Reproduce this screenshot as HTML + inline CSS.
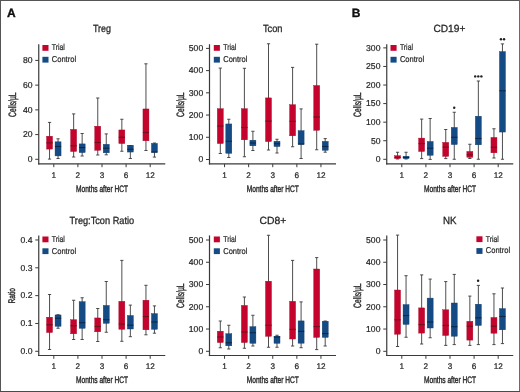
<!DOCTYPE html>
<html><head><meta charset="utf-8"><style>
html,body{margin:0;padding:0;background:#fff;}
body{width:520px;height:392px;overflow:hidden;position:relative;}
svg{position:absolute;left:0;top:0;font-family:"Liberation Sans", sans-serif;will-change:transform;}
svg text{stroke:#2a2a2a;stroke-width:0.22px;text-rendering:geometricPrecision;}
</style></head><body>
<svg width="520" height="392" viewBox="0 0 520 392">
<rect x="0" y="0" width="520" height="392" fill="#fff"/>
<rect x="0" y="0" width="520" height="1" fill="#555"/>
<rect x="0" y="0" width="1" height="392" fill="#555"/>
<rect x="519" y="0" width="1" height="392" fill="#6a6a6a"/>
<rect x="0" y="391" width="520" height="1" fill="#4a4a4a"/>
<text x="7" y="17.2" font-size="12" font-weight="bold" fill="#111" style="stroke:#111;stroke-width:0.35">A</text>
<text x="351.8" y="17.2" font-size="12" font-weight="bold" fill="#111" style="stroke:#111;stroke-width:0.35">B</text>
<text x="102" y="32.0" font-size="10.4" text-anchor="middle" fill="#262626" textLength="18.1" lengthAdjust="spacingAndGlyphs" style="stroke-width:0.3">Treg</text>
<text transform="translate(16.4,104.7) rotate(-90)" font-size="10.6" style="stroke-width:0.4" text-anchor="middle" fill="#262626" textLength="24.4" lengthAdjust="spacingAndGlyphs">Cells/µL</text>
<line x1="38.75" y1="44.2" x2="38.75" y2="164.5" stroke="#3a3a3a" stroke-width="1.2"/>
<line x1="38.15" y1="163.9" x2="165.25" y2="163.9" stroke="#3a3a3a" stroke-width="1.2"/>
<line x1="35.25" y1="159.3" x2="38.75" y2="159.3" stroke="#3a3a3a" stroke-width="1"/>
<text x="32.45" y="162.10000000000002" font-size="8.6" text-anchor="end" fill="#262626">0</text>
<line x1="35.25" y1="134.58" x2="38.75" y2="134.58" stroke="#3a3a3a" stroke-width="1"/>
<text x="32.45" y="137.38000000000002" font-size="8.6" text-anchor="end" fill="#262626">20</text>
<line x1="35.25" y1="109.86000000000001" x2="38.75" y2="109.86000000000001" stroke="#3a3a3a" stroke-width="1"/>
<text x="32.45" y="112.66000000000001" font-size="8.6" text-anchor="end" fill="#262626">40</text>
<line x1="35.25" y1="85.14000000000001" x2="38.75" y2="85.14000000000001" stroke="#3a3a3a" stroke-width="1"/>
<text x="32.45" y="87.94000000000001" font-size="8.6" text-anchor="end" fill="#262626">60</text>
<line x1="35.25" y1="60.420000000000016" x2="38.75" y2="60.420000000000016" stroke="#3a3a3a" stroke-width="1"/>
<text x="32.45" y="63.22000000000001" font-size="8.6" text-anchor="end" fill="#262626">80</text>
<line x1="53.8" y1="163.9" x2="53.8" y2="167.20000000000002" stroke="#3a3a3a" stroke-width="1"/>
<text x="53.8" y="177.6" font-size="8.2" text-anchor="middle" fill="#262626">1</text>
<line x1="77.9" y1="163.9" x2="77.9" y2="167.20000000000002" stroke="#3a3a3a" stroke-width="1"/>
<text x="77.9" y="177.6" font-size="8.2" text-anchor="middle" fill="#262626">2</text>
<line x1="102.0" y1="163.9" x2="102.0" y2="167.20000000000002" stroke="#3a3a3a" stroke-width="1"/>
<text x="102.0" y="177.6" font-size="8.2" text-anchor="middle" fill="#262626">3</text>
<line x1="126.10000000000001" y1="163.9" x2="126.10000000000001" y2="167.20000000000002" stroke="#3a3a3a" stroke-width="1"/>
<text x="126.10000000000001" y="177.6" font-size="8.2" text-anchor="middle" fill="#262626">6</text>
<line x1="150.2" y1="163.9" x2="150.2" y2="167.20000000000002" stroke="#3a3a3a" stroke-width="1"/>
<text x="150.2" y="177.6" font-size="8.2" text-anchor="middle" fill="#262626">12</text>
<text x="102.0" y="191.6" font-size="9.4" text-anchor="middle" fill="#262626" textLength="52" lengthAdjust="spacingAndGlyphs" style="stroke-width:0.4">Months after HCT</text>
<rect x="42.400000000000006" y="45" width="6.1" height="5.8" fill="#c4042c"/>
<rect x="42.400000000000006" y="56.8" width="6.1" height="5.8" fill="#154b84"/>
<text x="51.800000000000004" y="50.3" font-size="8.5" fill="#262626" textLength="13.1" lengthAdjust="spacingAndGlyphs">Trial</text>
<text x="51.800000000000004" y="62.0" font-size="8.5" fill="#262626" textLength="24.3" lengthAdjust="spacingAndGlyphs">Control</text>
<line x1="49.55" y1="122.4" x2="49.55" y2="159.1" stroke="#3a3a3a" stroke-width="0.9"/>
<line x1="47.949999999999996" y1="122.4" x2="51.15" y2="122.4" stroke="#3a3a3a" stroke-width="0.9"/>
<line x1="47.949999999999996" y1="159.1" x2="51.15" y2="159.1" stroke="#3a3a3a" stroke-width="0.9"/>
<rect x="46.55" y="136.2" width="6.0" height="12.900000000000011" fill="#c4042c" stroke="#a80826" stroke-width="0.4"/>
<line x1="46.449999999999996" y1="142.8" x2="52.65" y2="142.8" stroke="#72101c" stroke-width="1.1"/>
<line x1="58.05" y1="138.8" x2="58.05" y2="158.5" stroke="#3a3a3a" stroke-width="0.9"/>
<line x1="56.449999999999996" y1="138.8" x2="59.65" y2="138.8" stroke="#3a3a3a" stroke-width="0.9"/>
<line x1="56.449999999999996" y1="158.5" x2="59.65" y2="158.5" stroke="#3a3a3a" stroke-width="0.9"/>
<rect x="55.05" y="141.79999999999998" width="6.0" height="14.1" fill="#154b84" stroke="#0e3a68" stroke-width="0.4"/>
<line x1="54.949999999999996" y1="146.5" x2="61.15" y2="146.5" stroke="#0b2846" stroke-width="1.1"/>
<line x1="73.65" y1="113.9" x2="73.65" y2="157" stroke="#3a3a3a" stroke-width="0.9"/>
<line x1="72.05000000000001" y1="113.9" x2="75.25" y2="113.9" stroke="#3a3a3a" stroke-width="0.9"/>
<line x1="72.05000000000001" y1="157" x2="75.25" y2="157" stroke="#3a3a3a" stroke-width="0.9"/>
<rect x="70.65" y="129.39999999999998" width="6.0" height="22.1" fill="#c4042c" stroke="#a80826" stroke-width="0.4"/>
<line x1="70.55000000000001" y1="145.8" x2="76.75" y2="145.8" stroke="#72101c" stroke-width="1.1"/>
<line x1="82.15" y1="133.5" x2="82.15" y2="156" stroke="#3a3a3a" stroke-width="0.9"/>
<line x1="80.55000000000001" y1="133.5" x2="83.75" y2="133.5" stroke="#3a3a3a" stroke-width="0.9"/>
<line x1="80.55000000000001" y1="156" x2="83.75" y2="156" stroke="#3a3a3a" stroke-width="0.9"/>
<rect x="79.15" y="143.89999999999998" width="6.0" height="8.700000000000022" fill="#154b84" stroke="#0e3a68" stroke-width="0.4"/>
<line x1="79.05000000000001" y1="147.6" x2="85.25" y2="147.6" stroke="#0b2846" stroke-width="1.1"/>
<line x1="97.75" y1="98" x2="97.75" y2="155" stroke="#3a3a3a" stroke-width="0.9"/>
<line x1="96.15" y1="98" x2="99.35" y2="98" stroke="#3a3a3a" stroke-width="0.9"/>
<line x1="96.15" y1="155" x2="99.35" y2="155" stroke="#3a3a3a" stroke-width="0.9"/>
<rect x="94.75" y="126.2" width="6.0" height="24.1" fill="#c4042c" stroke="#a80826" stroke-width="0.4"/>
<line x1="94.65" y1="142.5" x2="100.85" y2="142.5" stroke="#72101c" stroke-width="1.1"/>
<line x1="106.25" y1="133.9" x2="106.25" y2="154.8" stroke="#3a3a3a" stroke-width="0.9"/>
<line x1="104.65" y1="133.9" x2="107.85" y2="133.9" stroke="#3a3a3a" stroke-width="0.9"/>
<line x1="104.65" y1="154.8" x2="107.85" y2="154.8" stroke="#3a3a3a" stroke-width="0.9"/>
<rect x="103.25" y="144.29999999999998" width="6.0" height="8.500000000000005" fill="#154b84" stroke="#0e3a68" stroke-width="0.4"/>
<line x1="103.15" y1="148.2" x2="109.35" y2="148.2" stroke="#0b2846" stroke-width="1.1"/>
<line x1="121.85000000000001" y1="119.25" x2="121.85000000000001" y2="151.25" stroke="#3a3a3a" stroke-width="0.9"/>
<line x1="120.25000000000001" y1="119.25" x2="123.45" y2="119.25" stroke="#3a3a3a" stroke-width="0.9"/>
<line x1="120.25000000000001" y1="151.25" x2="123.45" y2="151.25" stroke="#3a3a3a" stroke-width="0.9"/>
<rect x="118.85000000000001" y="129.95" width="6.0" height="13.6" fill="#c4042c" stroke="#a80826" stroke-width="0.4"/>
<line x1="118.75000000000001" y1="137.25" x2="124.95" y2="137.25" stroke="#72101c" stroke-width="1.1"/>
<line x1="130.35000000000002" y1="145.5" x2="130.35000000000002" y2="158.5" stroke="#3a3a3a" stroke-width="0.9"/>
<line x1="128.75000000000003" y1="145.5" x2="131.95000000000002" y2="145.5" stroke="#3a3a3a" stroke-width="0.9"/>
<line x1="128.75000000000003" y1="158.5" x2="131.95000000000002" y2="158.5" stroke="#3a3a3a" stroke-width="0.9"/>
<rect x="127.35000000000002" y="145.2" width="6.0" height="6.85" fill="#154b84" stroke="#0e3a68" stroke-width="0.4"/>
<line x1="127.25000000000003" y1="149.25" x2="133.45000000000002" y2="149.25" stroke="#0b2846" stroke-width="1.1"/>
<line x1="145.95" y1="63.8" x2="145.95" y2="150.5" stroke="#3a3a3a" stroke-width="0.9"/>
<line x1="144.35" y1="63.8" x2="147.54999999999998" y2="63.8" stroke="#3a3a3a" stroke-width="0.9"/>
<line x1="144.35" y1="150.5" x2="147.54999999999998" y2="150.5" stroke="#3a3a3a" stroke-width="0.9"/>
<rect x="142.95" y="108.95" width="6.0" height="31.85" fill="#c4042c" stroke="#a80826" stroke-width="0.4"/>
<line x1="142.85" y1="132.5" x2="149.04999999999998" y2="132.5" stroke="#72101c" stroke-width="1.1"/>
<line x1="154.45" y1="143" x2="154.45" y2="157.1" stroke="#3a3a3a" stroke-width="0.9"/>
<line x1="152.85" y1="143" x2="156.04999999999998" y2="143" stroke="#3a3a3a" stroke-width="0.9"/>
<line x1="152.85" y1="157.1" x2="156.04999999999998" y2="157.1" stroke="#3a3a3a" stroke-width="0.9"/>
<rect x="151.45" y="143.39999999999998" width="6.0" height="9.000000000000005" fill="#154b84" stroke="#0e3a68" stroke-width="0.4"/>
<line x1="151.35" y1="152" x2="157.54999999999998" y2="152" stroke="#0b2846" stroke-width="1.1"/>
<text x="272.75" y="32.0" font-size="10.4" text-anchor="middle" fill="#262626" textLength="19.5" lengthAdjust="spacingAndGlyphs" style="stroke-width:0.3">Tcon</text>
<text transform="translate(184.39999999999998,104.7) rotate(-90)" font-size="10.6" style="stroke-width:0.4" text-anchor="middle" fill="#262626" textLength="24.4" lengthAdjust="spacingAndGlyphs">Cells/µL</text>
<line x1="209.5" y1="44.2" x2="209.5" y2="164.5" stroke="#3a3a3a" stroke-width="1.2"/>
<line x1="208.9" y1="163.9" x2="336.0" y2="163.9" stroke="#3a3a3a" stroke-width="1.2"/>
<line x1="206.0" y1="159.5" x2="209.5" y2="159.5" stroke="#3a3a3a" stroke-width="1"/>
<text x="203.2" y="162.3" font-size="8.6" text-anchor="end" fill="#262626">0</text>
<line x1="206.0" y1="137.28" x2="209.5" y2="137.28" stroke="#3a3a3a" stroke-width="1"/>
<text x="203.2" y="140.08" font-size="8.6" text-anchor="end" fill="#262626">100</text>
<line x1="206.0" y1="115.06" x2="209.5" y2="115.06" stroke="#3a3a3a" stroke-width="1"/>
<text x="203.2" y="117.86" font-size="8.6" text-anchor="end" fill="#262626">200</text>
<line x1="206.0" y1="92.84" x2="209.5" y2="92.84" stroke="#3a3a3a" stroke-width="1"/>
<text x="203.2" y="95.64" font-size="8.6" text-anchor="end" fill="#262626">300</text>
<line x1="206.0" y1="70.62" x2="209.5" y2="70.62" stroke="#3a3a3a" stroke-width="1"/>
<text x="203.2" y="73.42" font-size="8.6" text-anchor="end" fill="#262626">400</text>
<line x1="206.0" y1="48.400000000000006" x2="209.5" y2="48.400000000000006" stroke="#3a3a3a" stroke-width="1"/>
<text x="203.2" y="51.2" font-size="8.6" text-anchor="end" fill="#262626">500</text>
<line x1="224.55" y1="163.9" x2="224.55" y2="167.20000000000002" stroke="#3a3a3a" stroke-width="1"/>
<text x="224.55" y="177.6" font-size="8.2" text-anchor="middle" fill="#262626">1</text>
<line x1="248.65" y1="163.9" x2="248.65" y2="167.20000000000002" stroke="#3a3a3a" stroke-width="1"/>
<text x="248.65" y="177.6" font-size="8.2" text-anchor="middle" fill="#262626">2</text>
<line x1="272.75" y1="163.9" x2="272.75" y2="167.20000000000002" stroke="#3a3a3a" stroke-width="1"/>
<text x="272.75" y="177.6" font-size="8.2" text-anchor="middle" fill="#262626">3</text>
<line x1="296.85" y1="163.9" x2="296.85" y2="167.20000000000002" stroke="#3a3a3a" stroke-width="1"/>
<text x="296.85" y="177.6" font-size="8.2" text-anchor="middle" fill="#262626">6</text>
<line x1="320.95000000000005" y1="163.9" x2="320.95000000000005" y2="167.20000000000002" stroke="#3a3a3a" stroke-width="1"/>
<text x="320.95000000000005" y="177.6" font-size="8.2" text-anchor="middle" fill="#262626">12</text>
<text x="272.75" y="191.6" font-size="9.4" text-anchor="middle" fill="#262626" textLength="52" lengthAdjust="spacingAndGlyphs" style="stroke-width:0.4">Months after HCT</text>
<rect x="213.79999999999998" y="45" width="6.1" height="5.8" fill="#c4042c"/>
<rect x="213.79999999999998" y="56.8" width="6.1" height="5.8" fill="#154b84"/>
<text x="223.2" y="50.3" font-size="8.5" fill="#262626" textLength="13.1" lengthAdjust="spacingAndGlyphs">Trial</text>
<text x="223.2" y="62.0" font-size="8.5" fill="#262626" textLength="24.3" lengthAdjust="spacingAndGlyphs">Control</text>
<line x1="220.3" y1="68.1" x2="220.3" y2="153.5" stroke="#3a3a3a" stroke-width="0.9"/>
<line x1="218.70000000000002" y1="68.1" x2="221.9" y2="68.1" stroke="#3a3a3a" stroke-width="0.9"/>
<line x1="218.70000000000002" y1="153.5" x2="221.9" y2="153.5" stroke="#3a3a3a" stroke-width="0.9"/>
<rect x="217.3" y="108.7" width="6.0" height="34.85" fill="#c4042c" stroke="#a80826" stroke-width="0.4"/>
<line x1="217.20000000000002" y1="126" x2="223.4" y2="126" stroke="#72101c" stroke-width="1.1"/>
<line x1="228.8" y1="119.25" x2="228.8" y2="157.5" stroke="#3a3a3a" stroke-width="0.9"/>
<line x1="227.20000000000002" y1="119.25" x2="230.4" y2="119.25" stroke="#3a3a3a" stroke-width="0.9"/>
<line x1="227.20000000000002" y1="157.5" x2="230.4" y2="157.5" stroke="#3a3a3a" stroke-width="0.9"/>
<rect x="225.8" y="123.95" width="6.0" height="29.35" fill="#154b84" stroke="#0e3a68" stroke-width="0.4"/>
<line x1="225.70000000000002" y1="141.25" x2="231.9" y2="141.25" stroke="#0b2846" stroke-width="1.1"/>
<line x1="244.4" y1="68.3" x2="244.4" y2="156.75" stroke="#3a3a3a" stroke-width="0.9"/>
<line x1="242.8" y1="68.3" x2="246.0" y2="68.3" stroke="#3a3a3a" stroke-width="0.9"/>
<line x1="242.8" y1="156.75" x2="246.0" y2="156.75" stroke="#3a3a3a" stroke-width="0.9"/>
<rect x="241.4" y="108.7" width="6.0" height="31.1" fill="#c4042c" stroke="#a80826" stroke-width="0.4"/>
<line x1="241.3" y1="127.5" x2="247.5" y2="127.5" stroke="#72101c" stroke-width="1.1"/>
<line x1="252.9" y1="131.25" x2="252.9" y2="150.5" stroke="#3a3a3a" stroke-width="0.9"/>
<line x1="251.3" y1="131.25" x2="254.5" y2="131.25" stroke="#3a3a3a" stroke-width="0.9"/>
<line x1="251.3" y1="150.5" x2="254.5" y2="150.5" stroke="#3a3a3a" stroke-width="0.9"/>
<rect x="249.9" y="140.2" width="6.0" height="5.6" fill="#154b84" stroke="#0e3a68" stroke-width="0.4"/>
<line x1="249.8" y1="143" x2="256.0" y2="143" stroke="#0b2846" stroke-width="1.1"/>
<line x1="268.5" y1="43.75" x2="268.5" y2="150" stroke="#3a3a3a" stroke-width="0.9"/>
<line x1="266.9" y1="43.75" x2="270.1" y2="43.75" stroke="#3a3a3a" stroke-width="0.9"/>
<line x1="266.9" y1="150" x2="270.1" y2="150" stroke="#3a3a3a" stroke-width="0.9"/>
<rect x="265.5" y="97.9" width="6.0" height="43.65" fill="#c4042c" stroke="#a80826" stroke-width="0.4"/>
<line x1="265.4" y1="121.1" x2="271.6" y2="121.1" stroke="#72101c" stroke-width="1.1"/>
<line x1="277.0" y1="139.25" x2="277.0" y2="153" stroke="#3a3a3a" stroke-width="0.9"/>
<line x1="275.4" y1="139.25" x2="278.6" y2="139.25" stroke="#3a3a3a" stroke-width="0.9"/>
<line x1="275.4" y1="153" x2="278.6" y2="153" stroke="#3a3a3a" stroke-width="0.9"/>
<rect x="274.0" y="141.2" width="6.0" height="5.35" fill="#154b84" stroke="#0e3a68" stroke-width="0.4"/>
<line x1="273.9" y1="143.75" x2="280.1" y2="143.75" stroke="#0b2846" stroke-width="1.1"/>
<line x1="292.6" y1="67.4" x2="292.6" y2="146.75" stroke="#3a3a3a" stroke-width="0.9"/>
<line x1="291.0" y1="67.4" x2="294.20000000000005" y2="67.4" stroke="#3a3a3a" stroke-width="0.9"/>
<line x1="291.0" y1="146.75" x2="294.20000000000005" y2="146.75" stroke="#3a3a3a" stroke-width="0.9"/>
<rect x="289.6" y="104.7" width="6.0" height="31.1" fill="#c4042c" stroke="#a80826" stroke-width="0.4"/>
<line x1="289.5" y1="121.3" x2="295.70000000000005" y2="121.3" stroke="#72101c" stroke-width="1.1"/>
<line x1="301.1" y1="108.9" x2="301.1" y2="158.5" stroke="#3a3a3a" stroke-width="0.9"/>
<line x1="299.5" y1="108.9" x2="302.70000000000005" y2="108.9" stroke="#3a3a3a" stroke-width="0.9"/>
<line x1="299.5" y1="158.5" x2="302.70000000000005" y2="158.5" stroke="#3a3a3a" stroke-width="0.9"/>
<rect x="298.1" y="130.7" width="6.0" height="13.699999999999994" fill="#154b84" stroke="#0e3a68" stroke-width="0.4"/>
<line x1="298.0" y1="144" x2="304.20000000000005" y2="144" stroke="#0b2846" stroke-width="1.1"/>
<line x1="316.70000000000005" y1="44.2" x2="316.70000000000005" y2="149.75" stroke="#3a3a3a" stroke-width="0.9"/>
<line x1="315.1" y1="44.2" x2="318.30000000000007" y2="44.2" stroke="#3a3a3a" stroke-width="0.9"/>
<line x1="315.1" y1="149.75" x2="318.30000000000007" y2="149.75" stroke="#3a3a3a" stroke-width="0.9"/>
<rect x="313.70000000000005" y="85.5" width="6.0" height="44.800000000000004" fill="#c4042c" stroke="#a80826" stroke-width="0.4"/>
<line x1="313.6" y1="117" x2="319.80000000000007" y2="117" stroke="#72101c" stroke-width="1.1"/>
<line x1="325.20000000000005" y1="138.6" x2="325.20000000000005" y2="152.2" stroke="#3a3a3a" stroke-width="0.9"/>
<line x1="323.6" y1="138.6" x2="326.80000000000007" y2="138.6" stroke="#3a3a3a" stroke-width="0.9"/>
<line x1="323.6" y1="152.2" x2="326.80000000000007" y2="152.2" stroke="#3a3a3a" stroke-width="0.9"/>
<rect x="322.20000000000005" y="141.39999999999998" width="6.0" height="8.900000000000011" fill="#154b84" stroke="#0e3a68" stroke-width="0.4"/>
<line x1="322.1" y1="146.5" x2="328.30000000000007" y2="146.5" stroke="#0b2846" stroke-width="1.1"/>
<text x="449.4" y="32.0" font-size="10.4" text-anchor="middle" fill="#262626" textLength="32" lengthAdjust="spacingAndGlyphs" style="stroke-width:0.3">CD19+</text>
<text transform="translate(361.2,104.7) rotate(-90)" font-size="10.6" style="stroke-width:0.4" text-anchor="middle" fill="#262626" textLength="24.4" lengthAdjust="spacingAndGlyphs">Cells/µL</text>
<line x1="386.75" y1="44.2" x2="386.75" y2="164.5" stroke="#3a3a3a" stroke-width="1.2"/>
<line x1="386.15" y1="163.9" x2="513.25" y2="163.9" stroke="#3a3a3a" stroke-width="1.2"/>
<line x1="383.25" y1="159.3" x2="386.75" y2="159.3" stroke="#3a3a3a" stroke-width="1"/>
<text x="380.45" y="162.10000000000002" font-size="8.6" text-anchor="end" fill="#262626">0</text>
<line x1="383.25" y1="140.73000000000002" x2="386.75" y2="140.73000000000002" stroke="#3a3a3a" stroke-width="1"/>
<text x="380.45" y="143.53000000000003" font-size="8.6" text-anchor="end" fill="#262626">50</text>
<line x1="383.25" y1="122.16000000000001" x2="386.75" y2="122.16000000000001" stroke="#3a3a3a" stroke-width="1"/>
<text x="380.45" y="124.96000000000001" font-size="8.6" text-anchor="end" fill="#262626">100</text>
<line x1="383.25" y1="103.59" x2="386.75" y2="103.59" stroke="#3a3a3a" stroke-width="1"/>
<text x="380.45" y="106.39" font-size="8.6" text-anchor="end" fill="#262626">150</text>
<line x1="383.25" y1="85.02000000000001" x2="386.75" y2="85.02000000000001" stroke="#3a3a3a" stroke-width="1"/>
<text x="380.45" y="87.82000000000001" font-size="8.6" text-anchor="end" fill="#262626">200</text>
<line x1="383.25" y1="66.45" x2="386.75" y2="66.45" stroke="#3a3a3a" stroke-width="1"/>
<text x="380.45" y="69.25" font-size="8.6" text-anchor="end" fill="#262626">250</text>
<line x1="383.25" y1="47.88000000000001" x2="386.75" y2="47.88000000000001" stroke="#3a3a3a" stroke-width="1"/>
<text x="380.45" y="50.68000000000001" font-size="8.6" text-anchor="end" fill="#262626">300</text>
<line x1="401.8" y1="163.9" x2="401.8" y2="167.20000000000002" stroke="#3a3a3a" stroke-width="1"/>
<text x="401.8" y="177.6" font-size="8.2" text-anchor="middle" fill="#262626">1</text>
<line x1="425.90000000000003" y1="163.9" x2="425.90000000000003" y2="167.20000000000002" stroke="#3a3a3a" stroke-width="1"/>
<text x="425.90000000000003" y="177.6" font-size="8.2" text-anchor="middle" fill="#262626">2</text>
<line x1="450.0" y1="163.9" x2="450.0" y2="167.20000000000002" stroke="#3a3a3a" stroke-width="1"/>
<text x="450.0" y="177.6" font-size="8.2" text-anchor="middle" fill="#262626">3</text>
<line x1="474.1" y1="163.9" x2="474.1" y2="167.20000000000002" stroke="#3a3a3a" stroke-width="1"/>
<text x="474.1" y="177.6" font-size="8.2" text-anchor="middle" fill="#262626">6</text>
<line x1="498.20000000000005" y1="163.9" x2="498.20000000000005" y2="167.20000000000002" stroke="#3a3a3a" stroke-width="1"/>
<text x="498.20000000000005" y="177.6" font-size="8.2" text-anchor="middle" fill="#262626">12</text>
<text x="450.0" y="191.6" font-size="9.4" text-anchor="middle" fill="#262626" textLength="52" lengthAdjust="spacingAndGlyphs" style="stroke-width:0.4">Months after HCT</text>
<rect x="390.5" y="45" width="6.1" height="5.8" fill="#c4042c"/>
<rect x="390.5" y="56.8" width="6.1" height="5.8" fill="#154b84"/>
<text x="399.90000000000003" y="50.3" font-size="8.5" fill="#262626" textLength="13.1" lengthAdjust="spacingAndGlyphs">Trial</text>
<text x="399.90000000000003" y="62.0" font-size="8.5" fill="#262626" textLength="24.3" lengthAdjust="spacingAndGlyphs">Control</text>
<line x1="397.55" y1="152.25" x2="397.55" y2="159" stroke="#3a3a3a" stroke-width="0.9"/>
<line x1="395.95" y1="152.25" x2="399.15000000000003" y2="152.25" stroke="#3a3a3a" stroke-width="0.9"/>
<line x1="395.95" y1="159" x2="399.15000000000003" y2="159" stroke="#3a3a3a" stroke-width="0.9"/>
<rect x="394.55" y="155.7" width="6.0" height="2.85" fill="#c4042c" stroke="#a80826" stroke-width="0.4"/>
<line x1="394.45" y1="157.5" x2="400.65000000000003" y2="157.5" stroke="#72101c" stroke-width="1.1"/>
<line x1="406.05" y1="152.25" x2="406.05" y2="159" stroke="#3a3a3a" stroke-width="0.9"/>
<line x1="404.45" y1="152.25" x2="407.65000000000003" y2="152.25" stroke="#3a3a3a" stroke-width="0.9"/>
<line x1="404.45" y1="159" x2="407.65000000000003" y2="159" stroke="#3a3a3a" stroke-width="0.9"/>
<rect x="403.05" y="156.2" width="6.0" height="2.35" fill="#154b84" stroke="#0e3a68" stroke-width="0.4"/>
<line x1="402.95" y1="157.5" x2="409.15000000000003" y2="157.5" stroke="#0b2846" stroke-width="1.1"/>
<line x1="421.65000000000003" y1="119.1" x2="421.65000000000003" y2="158.6" stroke="#3a3a3a" stroke-width="0.9"/>
<line x1="420.05" y1="119.1" x2="423.25000000000006" y2="119.1" stroke="#3a3a3a" stroke-width="0.9"/>
<line x1="420.05" y1="158.6" x2="423.25000000000006" y2="158.6" stroke="#3a3a3a" stroke-width="0.9"/>
<rect x="418.65000000000003" y="138.1" width="6.0" height="13.399999999999983" fill="#c4042c" stroke="#a80826" stroke-width="0.4"/>
<line x1="418.55" y1="143.6" x2="424.75000000000006" y2="143.6" stroke="#72101c" stroke-width="1.1"/>
<line x1="430.15000000000003" y1="118.5" x2="430.15000000000003" y2="159.4" stroke="#3a3a3a" stroke-width="0.9"/>
<line x1="428.55" y1="118.5" x2="431.75000000000006" y2="118.5" stroke="#3a3a3a" stroke-width="0.9"/>
<line x1="428.55" y1="159.4" x2="431.75000000000006" y2="159.4" stroke="#3a3a3a" stroke-width="0.9"/>
<rect x="427.15000000000003" y="141.5" width="6.0" height="13.799999999999988" fill="#154b84" stroke="#0e3a68" stroke-width="0.4"/>
<line x1="427.05" y1="148.2" x2="433.25000000000006" y2="148.2" stroke="#0b2846" stroke-width="1.1"/>
<line x1="445.75" y1="129.5" x2="445.75" y2="158.6" stroke="#3a3a3a" stroke-width="0.9"/>
<line x1="444.15" y1="129.5" x2="447.35" y2="129.5" stroke="#3a3a3a" stroke-width="0.9"/>
<line x1="444.15" y1="158.6" x2="447.35" y2="158.6" stroke="#3a3a3a" stroke-width="0.9"/>
<rect x="442.75" y="142.39999999999998" width="6.0" height="14.000000000000005" fill="#c4042c" stroke="#a80826" stroke-width="0.4"/>
<line x1="442.65" y1="147.1" x2="448.85" y2="147.1" stroke="#72101c" stroke-width="1.1"/>
<line x1="454.25" y1="112.25" x2="454.25" y2="159.25" stroke="#3a3a3a" stroke-width="0.9"/>
<line x1="452.65" y1="112.25" x2="455.85" y2="112.25" stroke="#3a3a3a" stroke-width="0.9"/>
<line x1="452.65" y1="159.25" x2="455.85" y2="159.25" stroke="#3a3a3a" stroke-width="0.9"/>
<rect x="451.25" y="127.45" width="6.0" height="17.1" fill="#154b84" stroke="#0e3a68" stroke-width="0.4"/>
<line x1="451.15" y1="137.25" x2="457.35" y2="137.25" stroke="#0b2846" stroke-width="1.1"/>
<line x1="469.85" y1="144.25" x2="469.85" y2="158.5" stroke="#3a3a3a" stroke-width="0.9"/>
<line x1="468.25" y1="144.25" x2="471.45000000000005" y2="144.25" stroke="#3a3a3a" stroke-width="0.9"/>
<line x1="468.25" y1="158.5" x2="471.45000000000005" y2="158.5" stroke="#3a3a3a" stroke-width="0.9"/>
<rect x="466.85" y="151.45" width="6.0" height="5.85" fill="#c4042c" stroke="#a80826" stroke-width="0.4"/>
<line x1="466.75" y1="154.75" x2="472.95000000000005" y2="154.75" stroke="#72101c" stroke-width="1.1"/>
<line x1="478.35" y1="81" x2="478.35" y2="159.25" stroke="#3a3a3a" stroke-width="0.9"/>
<line x1="476.75" y1="81" x2="479.95000000000005" y2="81" stroke="#3a3a3a" stroke-width="0.9"/>
<line x1="476.75" y1="159.25" x2="479.95000000000005" y2="159.25" stroke="#3a3a3a" stroke-width="0.9"/>
<rect x="475.35" y="116.2" width="6.0" height="28.6" fill="#154b84" stroke="#0e3a68" stroke-width="0.4"/>
<line x1="475.25" y1="138.5" x2="481.45000000000005" y2="138.5" stroke="#0b2846" stroke-width="1.1"/>
<line x1="493.95000000000005" y1="128.75" x2="493.95000000000005" y2="158" stroke="#3a3a3a" stroke-width="0.9"/>
<line x1="492.35" y1="128.75" x2="495.55000000000007" y2="128.75" stroke="#3a3a3a" stroke-width="0.9"/>
<line x1="492.35" y1="158" x2="495.55000000000007" y2="158" stroke="#3a3a3a" stroke-width="0.9"/>
<rect x="490.95000000000005" y="137.45" width="6.0" height="15.35" fill="#c4042c" stroke="#a80826" stroke-width="0.4"/>
<line x1="490.85" y1="147.25" x2="497.05000000000007" y2="147.25" stroke="#72101c" stroke-width="1.1"/>
<line x1="502.45000000000005" y1="43.9" x2="502.45000000000005" y2="159.25" stroke="#3a3a3a" stroke-width="0.9"/>
<line x1="500.85" y1="43.9" x2="504.05000000000007" y2="43.9" stroke="#3a3a3a" stroke-width="0.9"/>
<line x1="500.85" y1="159.25" x2="504.05000000000007" y2="159.25" stroke="#3a3a3a" stroke-width="0.9"/>
<rect x="499.45000000000005" y="51.6" width="6.0" height="80.44999999999999" fill="#154b84" stroke="#0e3a68" stroke-width="0.4"/>
<line x1="499.35" y1="90.8" x2="505.55000000000007" y2="90.8" stroke="#0b2846" stroke-width="1.1"/>
<circle cx="454.20" cy="107.8" r="1.2" fill="#1e1e1e"/>
<circle cx="475.20" cy="76.4" r="1.2" fill="#1e1e1e"/>
<circle cx="478.30" cy="76.4" r="1.2" fill="#1e1e1e"/>
<circle cx="481.40" cy="76.4" r="1.2" fill="#1e1e1e"/>
<circle cx="500.95" cy="39.3" r="1.2" fill="#1e1e1e"/>
<circle cx="504.05" cy="39.3" r="1.2" fill="#1e1e1e"/>
<text x="101.85" y="223.9" font-size="10.4" text-anchor="middle" fill="#262626" textLength="64.6" lengthAdjust="spacingAndGlyphs" style="stroke-width:0.3">Treg:Tcon Ratio</text>
<text transform="translate(15.0,295.7) rotate(-90)" font-size="9.6" style="stroke-width:0.4" text-anchor="middle" fill="#262626" textLength="15.4" lengthAdjust="spacingAndGlyphs">Ratio</text>
<line x1="38.75" y1="235.4" x2="38.75" y2="356.1" stroke="#3a3a3a" stroke-width="1.2"/>
<line x1="38.15" y1="355.5" x2="165.25" y2="355.5" stroke="#3a3a3a" stroke-width="1.2"/>
<line x1="35.25" y1="351.3" x2="38.75" y2="351.3" stroke="#3a3a3a" stroke-width="1"/>
<text x="32.45" y="354.1" font-size="8.6" text-anchor="end" fill="#262626">0.0</text>
<line x1="35.25" y1="323.47" x2="38.75" y2="323.47" stroke="#3a3a3a" stroke-width="1"/>
<text x="32.45" y="326.27000000000004" font-size="8.6" text-anchor="end" fill="#262626">0.1</text>
<line x1="35.25" y1="295.64" x2="38.75" y2="295.64" stroke="#3a3a3a" stroke-width="1"/>
<text x="32.45" y="298.44" font-size="8.6" text-anchor="end" fill="#262626">0.2</text>
<line x1="35.25" y1="267.81" x2="38.75" y2="267.81" stroke="#3a3a3a" stroke-width="1"/>
<text x="32.45" y="270.61" font-size="8.6" text-anchor="end" fill="#262626">0.3</text>
<line x1="35.25" y1="239.98000000000002" x2="38.75" y2="239.98000000000002" stroke="#3a3a3a" stroke-width="1"/>
<text x="32.45" y="242.78000000000003" font-size="8.6" text-anchor="end" fill="#262626">0.4</text>
<line x1="53.8" y1="355.5" x2="53.8" y2="358.8" stroke="#3a3a3a" stroke-width="1"/>
<text x="53.8" y="369.2" font-size="8.2" text-anchor="middle" fill="#262626">1</text>
<line x1="77.9" y1="355.5" x2="77.9" y2="358.8" stroke="#3a3a3a" stroke-width="1"/>
<text x="77.9" y="369.2" font-size="8.2" text-anchor="middle" fill="#262626">2</text>
<line x1="102.0" y1="355.5" x2="102.0" y2="358.8" stroke="#3a3a3a" stroke-width="1"/>
<text x="102.0" y="369.2" font-size="8.2" text-anchor="middle" fill="#262626">3</text>
<line x1="126.10000000000001" y1="355.5" x2="126.10000000000001" y2="358.8" stroke="#3a3a3a" stroke-width="1"/>
<text x="126.10000000000001" y="369.2" font-size="8.2" text-anchor="middle" fill="#262626">6</text>
<line x1="150.2" y1="355.5" x2="150.2" y2="358.8" stroke="#3a3a3a" stroke-width="1"/>
<text x="150.2" y="369.2" font-size="8.2" text-anchor="middle" fill="#262626">12</text>
<text x="102.0" y="383.2" font-size="9.4" text-anchor="middle" fill="#262626" textLength="52" lengthAdjust="spacingAndGlyphs" style="stroke-width:0.4">Months after HCT</text>
<rect x="42.400000000000006" y="236.5" width="6.1" height="5.8" fill="#c4042c"/>
<rect x="42.400000000000006" y="248.3" width="6.1" height="5.8" fill="#154b84"/>
<text x="51.800000000000004" y="241.8" font-size="8.5" fill="#262626" textLength="13.1" lengthAdjust="spacingAndGlyphs">Trial</text>
<text x="51.800000000000004" y="253.5" font-size="8.5" fill="#262626" textLength="24.3" lengthAdjust="spacingAndGlyphs">Control</text>
<line x1="49.55" y1="294.5" x2="49.55" y2="349.5" stroke="#3a3a3a" stroke-width="0.9"/>
<line x1="47.949999999999996" y1="294.5" x2="51.15" y2="294.5" stroke="#3a3a3a" stroke-width="0.9"/>
<line x1="47.949999999999996" y1="349.5" x2="51.15" y2="349.5" stroke="#3a3a3a" stroke-width="0.9"/>
<rect x="46.55" y="317.2" width="6.0" height="15.35" fill="#c4042c" stroke="#a80826" stroke-width="0.4"/>
<line x1="46.449999999999996" y1="324.75" x2="52.65" y2="324.75" stroke="#72101c" stroke-width="1.1"/>
<line x1="58.05" y1="314.75" x2="58.05" y2="328.25" stroke="#3a3a3a" stroke-width="0.9"/>
<line x1="56.449999999999996" y1="314.75" x2="59.65" y2="314.75" stroke="#3a3a3a" stroke-width="0.9"/>
<line x1="56.449999999999996" y1="328.25" x2="59.65" y2="328.25" stroke="#3a3a3a" stroke-width="0.9"/>
<rect x="55.05" y="314.95" width="6.0" height="11.35" fill="#154b84" stroke="#0e3a68" stroke-width="0.4"/>
<line x1="54.949999999999996" y1="318.25" x2="61.15" y2="318.25" stroke="#0b2846" stroke-width="1.1"/>
<line x1="73.65" y1="300.25" x2="73.65" y2="339.5" stroke="#3a3a3a" stroke-width="0.9"/>
<line x1="72.05000000000001" y1="300.25" x2="75.25" y2="300.25" stroke="#3a3a3a" stroke-width="0.9"/>
<line x1="72.05000000000001" y1="339.5" x2="75.25" y2="339.5" stroke="#3a3a3a" stroke-width="0.9"/>
<rect x="70.65" y="319.7" width="6.0" height="14.1" fill="#c4042c" stroke="#a80826" stroke-width="0.4"/>
<line x1="70.55000000000001" y1="325.75" x2="76.75" y2="325.75" stroke="#72101c" stroke-width="1.1"/>
<line x1="82.15" y1="297.75" x2="82.15" y2="339.5" stroke="#3a3a3a" stroke-width="0.9"/>
<line x1="80.55000000000001" y1="297.75" x2="83.75" y2="297.75" stroke="#3a3a3a" stroke-width="0.9"/>
<line x1="80.55000000000001" y1="339.5" x2="83.75" y2="339.5" stroke="#3a3a3a" stroke-width="0.9"/>
<rect x="79.15" y="301.7" width="6.0" height="26.6" fill="#154b84" stroke="#0e3a68" stroke-width="0.4"/>
<line x1="79.05000000000001" y1="322.75" x2="85.25" y2="322.75" stroke="#0b2846" stroke-width="1.1"/>
<line x1="97.75" y1="308.5" x2="97.75" y2="341.5" stroke="#3a3a3a" stroke-width="0.9"/>
<line x1="96.15" y1="308.5" x2="99.35" y2="308.5" stroke="#3a3a3a" stroke-width="0.9"/>
<line x1="96.15" y1="341.5" x2="99.35" y2="341.5" stroke="#3a3a3a" stroke-width="0.9"/>
<rect x="94.75" y="317.95" width="6.0" height="13.85" fill="#c4042c" stroke="#a80826" stroke-width="0.4"/>
<line x1="94.65" y1="326.5" x2="100.85" y2="326.5" stroke="#72101c" stroke-width="1.1"/>
<line x1="106.25" y1="281.5" x2="106.25" y2="332.25" stroke="#3a3a3a" stroke-width="0.9"/>
<line x1="104.65" y1="281.5" x2="107.85" y2="281.5" stroke="#3a3a3a" stroke-width="0.9"/>
<line x1="104.65" y1="332.25" x2="107.85" y2="332.25" stroke="#3a3a3a" stroke-width="0.9"/>
<rect x="103.25" y="305.45" width="6.0" height="17.85" fill="#154b84" stroke="#0e3a68" stroke-width="0.4"/>
<line x1="103.15" y1="319.75" x2="109.35" y2="319.75" stroke="#0b2846" stroke-width="1.1"/>
<line x1="121.85000000000001" y1="260.4" x2="121.85000000000001" y2="341.3" stroke="#3a3a3a" stroke-width="0.9"/>
<line x1="120.25000000000001" y1="260.4" x2="123.45" y2="260.4" stroke="#3a3a3a" stroke-width="0.9"/>
<line x1="120.25000000000001" y1="341.3" x2="123.45" y2="341.3" stroke="#3a3a3a" stroke-width="0.9"/>
<rect x="118.85000000000001" y="301.3" width="6.0" height="27.99999999999998" fill="#c4042c" stroke="#a80826" stroke-width="0.4"/>
<line x1="118.75000000000001" y1="324.1" x2="124.95" y2="324.1" stroke="#72101c" stroke-width="1.1"/>
<line x1="130.35000000000002" y1="305.1" x2="130.35000000000002" y2="336.7" stroke="#3a3a3a" stroke-width="0.9"/>
<line x1="128.75000000000003" y1="305.1" x2="131.95000000000002" y2="305.1" stroke="#3a3a3a" stroke-width="0.9"/>
<line x1="128.75000000000003" y1="336.7" x2="131.95000000000002" y2="336.7" stroke="#3a3a3a" stroke-width="0.9"/>
<rect x="127.35000000000002" y="315.5" width="6.0" height="13.499999999999977" fill="#154b84" stroke="#0e3a68" stroke-width="0.4"/>
<line x1="127.25000000000003" y1="325.2" x2="133.45000000000002" y2="325.2" stroke="#0b2846" stroke-width="1.1"/>
<line x1="145.95" y1="285.3" x2="145.95" y2="334.8" stroke="#3a3a3a" stroke-width="0.9"/>
<line x1="144.35" y1="285.3" x2="147.54999999999998" y2="285.3" stroke="#3a3a3a" stroke-width="0.9"/>
<line x1="144.35" y1="334.8" x2="147.54999999999998" y2="334.8" stroke="#3a3a3a" stroke-width="0.9"/>
<rect x="142.95" y="300.2" width="6.0" height="29.6" fill="#c4042c" stroke="#a80826" stroke-width="0.4"/>
<line x1="142.85" y1="316.6" x2="149.04999999999998" y2="316.6" stroke="#72101c" stroke-width="1.1"/>
<line x1="154.45" y1="305.9" x2="154.45" y2="333.2" stroke="#3a3a3a" stroke-width="0.9"/>
<line x1="152.85" y1="305.9" x2="156.04999999999998" y2="305.9" stroke="#3a3a3a" stroke-width="0.9"/>
<line x1="152.85" y1="333.2" x2="156.04999999999998" y2="333.2" stroke="#3a3a3a" stroke-width="0.9"/>
<rect x="151.45" y="313.59999999999997" width="6.0" height="15.700000000000022" fill="#154b84" stroke="#0e3a68" stroke-width="0.4"/>
<line x1="151.35" y1="322" x2="157.54999999999998" y2="322" stroke="#0b2846" stroke-width="1.1"/>
<text x="272.9" y="223.9" font-size="10.4" text-anchor="middle" fill="#262626" textLength="26.8" lengthAdjust="spacingAndGlyphs" style="stroke-width:0.3">CD8+</text>
<text transform="translate(184.39999999999998,295.7) rotate(-90)" font-size="10.6" style="stroke-width:0.4" text-anchor="middle" fill="#262626" textLength="24.4" lengthAdjust="spacingAndGlyphs">Cells/µL</text>
<line x1="209.5" y1="235.4" x2="209.5" y2="356.1" stroke="#3a3a3a" stroke-width="1.2"/>
<line x1="208.9" y1="355.5" x2="336.0" y2="355.5" stroke="#3a3a3a" stroke-width="1.2"/>
<line x1="206.0" y1="351.3" x2="209.5" y2="351.3" stroke="#3a3a3a" stroke-width="1"/>
<text x="203.2" y="354.1" font-size="8.6" text-anchor="end" fill="#262626">0</text>
<line x1="206.0" y1="329.04" x2="209.5" y2="329.04" stroke="#3a3a3a" stroke-width="1"/>
<text x="203.2" y="331.84000000000003" font-size="8.6" text-anchor="end" fill="#262626">100</text>
<line x1="206.0" y1="306.78000000000003" x2="209.5" y2="306.78000000000003" stroke="#3a3a3a" stroke-width="1"/>
<text x="203.2" y="309.58000000000004" font-size="8.6" text-anchor="end" fill="#262626">200</text>
<line x1="206.0" y1="284.52" x2="209.5" y2="284.52" stroke="#3a3a3a" stroke-width="1"/>
<text x="203.2" y="287.32" font-size="8.6" text-anchor="end" fill="#262626">300</text>
<line x1="206.0" y1="262.26" x2="209.5" y2="262.26" stroke="#3a3a3a" stroke-width="1"/>
<text x="203.2" y="265.06" font-size="8.6" text-anchor="end" fill="#262626">400</text>
<line x1="206.0" y1="240.0" x2="209.5" y2="240.0" stroke="#3a3a3a" stroke-width="1"/>
<text x="203.2" y="242.8" font-size="8.6" text-anchor="end" fill="#262626">500</text>
<line x1="224.55" y1="355.5" x2="224.55" y2="358.8" stroke="#3a3a3a" stroke-width="1"/>
<text x="224.55" y="369.2" font-size="8.2" text-anchor="middle" fill="#262626">1</text>
<line x1="248.65" y1="355.5" x2="248.65" y2="358.8" stroke="#3a3a3a" stroke-width="1"/>
<text x="248.65" y="369.2" font-size="8.2" text-anchor="middle" fill="#262626">2</text>
<line x1="272.75" y1="355.5" x2="272.75" y2="358.8" stroke="#3a3a3a" stroke-width="1"/>
<text x="272.75" y="369.2" font-size="8.2" text-anchor="middle" fill="#262626">3</text>
<line x1="296.85" y1="355.5" x2="296.85" y2="358.8" stroke="#3a3a3a" stroke-width="1"/>
<text x="296.85" y="369.2" font-size="8.2" text-anchor="middle" fill="#262626">6</text>
<line x1="320.95000000000005" y1="355.5" x2="320.95000000000005" y2="358.8" stroke="#3a3a3a" stroke-width="1"/>
<text x="320.95000000000005" y="369.2" font-size="8.2" text-anchor="middle" fill="#262626">12</text>
<text x="272.75" y="383.2" font-size="9.4" text-anchor="middle" fill="#262626" textLength="52" lengthAdjust="spacingAndGlyphs" style="stroke-width:0.4">Months after HCT</text>
<rect x="213.79999999999998" y="236.5" width="6.1" height="5.8" fill="#c4042c"/>
<rect x="213.79999999999998" y="248.3" width="6.1" height="5.8" fill="#154b84"/>
<text x="223.2" y="241.8" font-size="8.5" fill="#262626" textLength="13.1" lengthAdjust="spacingAndGlyphs">Trial</text>
<text x="223.2" y="253.5" font-size="8.5" fill="#262626" textLength="24.3" lengthAdjust="spacingAndGlyphs">Control</text>
<line x1="220.3" y1="321" x2="220.3" y2="347.75" stroke="#3a3a3a" stroke-width="0.9"/>
<line x1="218.70000000000002" y1="321" x2="221.9" y2="321" stroke="#3a3a3a" stroke-width="0.9"/>
<line x1="218.70000000000002" y1="347.75" x2="221.9" y2="347.75" stroke="#3a3a3a" stroke-width="0.9"/>
<rect x="217.3" y="331.2" width="6.0" height="11.35" fill="#c4042c" stroke="#a80826" stroke-width="0.4"/>
<line x1="217.20000000000002" y1="337" x2="223.4" y2="337" stroke="#72101c" stroke-width="1.1"/>
<line x1="228.8" y1="325.25" x2="228.8" y2="349" stroke="#3a3a3a" stroke-width="0.9"/>
<line x1="227.20000000000002" y1="325.25" x2="230.4" y2="325.25" stroke="#3a3a3a" stroke-width="0.9"/>
<line x1="227.20000000000002" y1="349" x2="230.4" y2="349" stroke="#3a3a3a" stroke-width="0.9"/>
<rect x="225.8" y="333.7" width="6.0" height="12.1" fill="#154b84" stroke="#0e3a68" stroke-width="0.4"/>
<line x1="225.70000000000002" y1="342.75" x2="231.9" y2="342.75" stroke="#0b2846" stroke-width="1.1"/>
<line x1="244.4" y1="297" x2="244.4" y2="348.25" stroke="#3a3a3a" stroke-width="0.9"/>
<line x1="242.8" y1="297" x2="246.0" y2="297" stroke="#3a3a3a" stroke-width="0.9"/>
<line x1="242.8" y1="348.25" x2="246.0" y2="348.25" stroke="#3a3a3a" stroke-width="0.9"/>
<rect x="241.4" y="305.45" width="6.0" height="37.1" fill="#c4042c" stroke="#a80826" stroke-width="0.4"/>
<line x1="241.3" y1="332" x2="247.5" y2="332" stroke="#72101c" stroke-width="1.1"/>
<line x1="252.9" y1="315.25" x2="252.9" y2="346" stroke="#3a3a3a" stroke-width="0.9"/>
<line x1="251.3" y1="315.25" x2="254.5" y2="315.25" stroke="#3a3a3a" stroke-width="0.9"/>
<line x1="251.3" y1="346" x2="254.5" y2="346" stroke="#3a3a3a" stroke-width="0.9"/>
<rect x="249.9" y="326.7" width="6.0" height="16.6" fill="#154b84" stroke="#0e3a68" stroke-width="0.4"/>
<line x1="249.8" y1="332.75" x2="256.0" y2="332.75" stroke="#0b2846" stroke-width="1.1"/>
<line x1="268.5" y1="235.25" x2="268.5" y2="347.25" stroke="#3a3a3a" stroke-width="0.9"/>
<line x1="266.9" y1="235.25" x2="270.1" y2="235.25" stroke="#3a3a3a" stroke-width="0.9"/>
<line x1="266.9" y1="347.25" x2="270.1" y2="347.25" stroke="#3a3a3a" stroke-width="0.9"/>
<rect x="265.5" y="281.2" width="6.0" height="55.1" fill="#c4042c" stroke="#a80826" stroke-width="0.4"/>
<line x1="265.4" y1="325.25" x2="271.6" y2="325.25" stroke="#72101c" stroke-width="1.1"/>
<line x1="277.0" y1="335.25" x2="277.0" y2="347.25" stroke="#3a3a3a" stroke-width="0.9"/>
<line x1="275.4" y1="335.25" x2="278.6" y2="335.25" stroke="#3a3a3a" stroke-width="0.9"/>
<line x1="275.4" y1="347.25" x2="278.6" y2="347.25" stroke="#3a3a3a" stroke-width="0.9"/>
<rect x="274.0" y="336.2" width="6.0" height="7.1" fill="#154b84" stroke="#0e3a68" stroke-width="0.4"/>
<line x1="273.9" y1="337" x2="280.1" y2="337" stroke="#0b2846" stroke-width="1.1"/>
<line x1="292.6" y1="260.4" x2="292.6" y2="346" stroke="#3a3a3a" stroke-width="0.9"/>
<line x1="291.0" y1="260.4" x2="294.20000000000005" y2="260.4" stroke="#3a3a3a" stroke-width="0.9"/>
<line x1="291.0" y1="346" x2="294.20000000000005" y2="346" stroke="#3a3a3a" stroke-width="0.9"/>
<rect x="289.6" y="301.3" width="6.0" height="37.69999999999997" fill="#c4042c" stroke="#a80826" stroke-width="0.4"/>
<line x1="289.5" y1="329.4" x2="295.70000000000005" y2="329.4" stroke="#72101c" stroke-width="1.1"/>
<line x1="301.1" y1="301.9" x2="301.1" y2="347.7" stroke="#3a3a3a" stroke-width="0.9"/>
<line x1="299.5" y1="301.9" x2="302.70000000000005" y2="301.9" stroke="#3a3a3a" stroke-width="0.9"/>
<line x1="299.5" y1="347.7" x2="302.70000000000005" y2="347.7" stroke="#3a3a3a" stroke-width="0.9"/>
<rect x="298.1" y="320.9" width="6.0" height="22.29999999999999" fill="#154b84" stroke="#0e3a68" stroke-width="0.4"/>
<line x1="298.0" y1="331.4" x2="304.20000000000005" y2="331.4" stroke="#0b2846" stroke-width="1.1"/>
<line x1="316.70000000000005" y1="257.6" x2="316.70000000000005" y2="349.6" stroke="#3a3a3a" stroke-width="0.9"/>
<line x1="315.1" y1="257.6" x2="318.30000000000007" y2="257.6" stroke="#3a3a3a" stroke-width="0.9"/>
<line x1="315.1" y1="349.6" x2="318.30000000000007" y2="349.6" stroke="#3a3a3a" stroke-width="0.9"/>
<rect x="313.70000000000005" y="269.0" width="6.0" height="68.4" fill="#c4042c" stroke="#a80826" stroke-width="0.4"/>
<line x1="313.6" y1="326.6" x2="319.80000000000007" y2="326.6" stroke="#72101c" stroke-width="1.1"/>
<line x1="325.20000000000005" y1="321" x2="325.20000000000005" y2="346" stroke="#3a3a3a" stroke-width="0.9"/>
<line x1="323.6" y1="321" x2="326.80000000000007" y2="321" stroke="#3a3a3a" stroke-width="0.9"/>
<line x1="323.6" y1="346" x2="326.80000000000007" y2="346" stroke="#3a3a3a" stroke-width="0.9"/>
<rect x="322.20000000000005" y="321.2" width="6.0" height="16.200000000000024" fill="#154b84" stroke="#0e3a68" stroke-width="0.4"/>
<line x1="322.1" y1="333.6" x2="328.30000000000007" y2="333.6" stroke="#0b2846" stroke-width="1.1"/>
<text x="449.75" y="223.9" font-size="10.4" text-anchor="middle" fill="#262626" textLength="13.5" lengthAdjust="spacingAndGlyphs" style="stroke-width:0.3">NK</text>
<text transform="translate(360.7,295.7) rotate(-90)" font-size="10.6" style="stroke-width:0.4" text-anchor="middle" fill="#262626" textLength="24.4" lengthAdjust="spacingAndGlyphs">Cells/µL</text>
<line x1="386.75" y1="235.4" x2="386.75" y2="356.1" stroke="#3a3a3a" stroke-width="1.2"/>
<line x1="386.15" y1="355.5" x2="513.25" y2="355.5" stroke="#3a3a3a" stroke-width="1.2"/>
<line x1="383.25" y1="351.3" x2="386.75" y2="351.3" stroke="#3a3a3a" stroke-width="1"/>
<text x="380.45" y="354.1" font-size="8.6" text-anchor="end" fill="#262626">0</text>
<line x1="383.25" y1="329.04" x2="386.75" y2="329.04" stroke="#3a3a3a" stroke-width="1"/>
<text x="380.45" y="331.84000000000003" font-size="8.6" text-anchor="end" fill="#262626">100</text>
<line x1="383.25" y1="306.78000000000003" x2="386.75" y2="306.78000000000003" stroke="#3a3a3a" stroke-width="1"/>
<text x="380.45" y="309.58000000000004" font-size="8.6" text-anchor="end" fill="#262626">200</text>
<line x1="383.25" y1="284.52" x2="386.75" y2="284.52" stroke="#3a3a3a" stroke-width="1"/>
<text x="380.45" y="287.32" font-size="8.6" text-anchor="end" fill="#262626">300</text>
<line x1="383.25" y1="262.26" x2="386.75" y2="262.26" stroke="#3a3a3a" stroke-width="1"/>
<text x="380.45" y="265.06" font-size="8.6" text-anchor="end" fill="#262626">400</text>
<line x1="383.25" y1="240.0" x2="386.75" y2="240.0" stroke="#3a3a3a" stroke-width="1"/>
<text x="380.45" y="242.8" font-size="8.6" text-anchor="end" fill="#262626">500</text>
<line x1="401.8" y1="355.5" x2="401.8" y2="358.8" stroke="#3a3a3a" stroke-width="1"/>
<text x="401.8" y="369.2" font-size="8.2" text-anchor="middle" fill="#262626">1</text>
<line x1="425.90000000000003" y1="355.5" x2="425.90000000000003" y2="358.8" stroke="#3a3a3a" stroke-width="1"/>
<text x="425.90000000000003" y="369.2" font-size="8.2" text-anchor="middle" fill="#262626">2</text>
<line x1="450.0" y1="355.5" x2="450.0" y2="358.8" stroke="#3a3a3a" stroke-width="1"/>
<text x="450.0" y="369.2" font-size="8.2" text-anchor="middle" fill="#262626">3</text>
<line x1="474.1" y1="355.5" x2="474.1" y2="358.8" stroke="#3a3a3a" stroke-width="1"/>
<text x="474.1" y="369.2" font-size="8.2" text-anchor="middle" fill="#262626">6</text>
<line x1="498.20000000000005" y1="355.5" x2="498.20000000000005" y2="358.8" stroke="#3a3a3a" stroke-width="1"/>
<text x="498.20000000000005" y="369.2" font-size="8.2" text-anchor="middle" fill="#262626">12</text>
<text x="450.0" y="383.2" font-size="9.4" text-anchor="middle" fill="#262626" textLength="52" lengthAdjust="spacingAndGlyphs" style="stroke-width:0.4">Months after HCT</text>
<rect x="476.4" y="236.3" width="6.1" height="5.8" fill="#c4042c"/>
<rect x="476.4" y="248.10000000000002" width="6.1" height="5.8" fill="#154b84"/>
<text x="485.8" y="241.60000000000002" font-size="8.5" fill="#262626" textLength="13.1" lengthAdjust="spacingAndGlyphs">Trial</text>
<text x="485.8" y="253.3" font-size="8.5" fill="#262626" textLength="24.3" lengthAdjust="spacingAndGlyphs">Control</text>
<line x1="397.55" y1="235.1" x2="397.55" y2="346.5" stroke="#3a3a3a" stroke-width="0.9"/>
<line x1="395.95" y1="235.1" x2="399.15000000000003" y2="235.1" stroke="#3a3a3a" stroke-width="0.9"/>
<line x1="395.95" y1="346.5" x2="399.15000000000003" y2="346.5" stroke="#3a3a3a" stroke-width="0.9"/>
<rect x="394.55" y="290.0" width="6.0" height="44.19999999999997" fill="#c4042c" stroke="#a80826" stroke-width="0.4"/>
<line x1="394.45" y1="319.8" x2="400.65000000000003" y2="319.8" stroke="#72101c" stroke-width="1.1"/>
<line x1="406.05" y1="275.7" x2="406.05" y2="337.25" stroke="#3a3a3a" stroke-width="0.9"/>
<line x1="404.45" y1="275.7" x2="407.65000000000003" y2="275.7" stroke="#3a3a3a" stroke-width="0.9"/>
<line x1="404.45" y1="337.25" x2="407.65000000000003" y2="337.25" stroke="#3a3a3a" stroke-width="0.9"/>
<rect x="403.05" y="304.59999999999997" width="6.0" height="19.800000000000047" fill="#154b84" stroke="#0e3a68" stroke-width="0.4"/>
<line x1="402.95" y1="315.6" x2="409.15000000000003" y2="315.6" stroke="#0b2846" stroke-width="1.1"/>
<line x1="421.65000000000003" y1="274.9" x2="421.65000000000003" y2="344" stroke="#3a3a3a" stroke-width="0.9"/>
<line x1="420.05" y1="274.9" x2="423.25000000000006" y2="274.9" stroke="#3a3a3a" stroke-width="0.9"/>
<line x1="420.05" y1="344" x2="423.25000000000006" y2="344" stroke="#3a3a3a" stroke-width="0.9"/>
<rect x="418.65000000000003" y="307.9" width="6.0" height="25.200000000000024" fill="#c4042c" stroke="#a80826" stroke-width="0.4"/>
<line x1="418.55" y1="324.6" x2="424.75000000000006" y2="324.6" stroke="#72101c" stroke-width="1.1"/>
<line x1="430.15000000000003" y1="279.1" x2="430.15000000000003" y2="337.75" stroke="#3a3a3a" stroke-width="0.9"/>
<line x1="428.55" y1="279.1" x2="431.75000000000006" y2="279.1" stroke="#3a3a3a" stroke-width="0.9"/>
<line x1="428.55" y1="337.75" x2="431.75000000000006" y2="337.75" stroke="#3a3a3a" stroke-width="0.9"/>
<rect x="427.15000000000003" y="298.09999999999997" width="6.0" height="29.900000000000013" fill="#154b84" stroke="#0e3a68" stroke-width="0.4"/>
<line x1="427.05" y1="322" x2="433.25000000000006" y2="322" stroke="#0b2846" stroke-width="1.1"/>
<line x1="445.75" y1="281.6" x2="445.75" y2="345.4" stroke="#3a3a3a" stroke-width="0.9"/>
<line x1="444.15" y1="281.6" x2="447.35" y2="281.6" stroke="#3a3a3a" stroke-width="0.9"/>
<line x1="444.15" y1="345.4" x2="447.35" y2="345.4" stroke="#3a3a3a" stroke-width="0.9"/>
<rect x="442.75" y="309.8" width="6.0" height="25.699999999999967" fill="#c4042c" stroke="#a80826" stroke-width="0.4"/>
<line x1="442.65" y1="325.5" x2="448.85" y2="325.5" stroke="#72101c" stroke-width="1.1"/>
<line x1="454.25" y1="274.4" x2="454.25" y2="344.6" stroke="#3a3a3a" stroke-width="0.9"/>
<line x1="452.65" y1="274.4" x2="455.85" y2="274.4" stroke="#3a3a3a" stroke-width="0.9"/>
<line x1="452.65" y1="344.6" x2="455.85" y2="344.6" stroke="#3a3a3a" stroke-width="0.9"/>
<rect x="451.25" y="303.0" width="6.0" height="33.19999999999997" fill="#154b84" stroke="#0e3a68" stroke-width="0.4"/>
<line x1="451.15" y1="326.7" x2="457.35" y2="326.7" stroke="#0b2846" stroke-width="1.1"/>
<line x1="469.85" y1="296.1" x2="469.85" y2="345.4" stroke="#3a3a3a" stroke-width="0.9"/>
<line x1="468.25" y1="296.1" x2="471.45000000000005" y2="296.1" stroke="#3a3a3a" stroke-width="0.9"/>
<line x1="468.25" y1="345.4" x2="471.45000000000005" y2="345.4" stroke="#3a3a3a" stroke-width="0.9"/>
<rect x="466.85" y="321.3" width="6.0" height="18.79999999999999" fill="#c4042c" stroke="#a80826" stroke-width="0.4"/>
<line x1="466.75" y1="326.2" x2="472.95000000000005" y2="326.2" stroke="#72101c" stroke-width="1.1"/>
<line x1="478.35" y1="285.4" x2="478.35" y2="344.6" stroke="#3a3a3a" stroke-width="0.9"/>
<line x1="476.75" y1="285.4" x2="479.95000000000005" y2="285.4" stroke="#3a3a3a" stroke-width="0.9"/>
<line x1="476.75" y1="344.6" x2="479.95000000000005" y2="344.6" stroke="#3a3a3a" stroke-width="0.9"/>
<rect x="475.35" y="304.2" width="6.0" height="21.29999999999999" fill="#154b84" stroke="#0e3a68" stroke-width="0.4"/>
<line x1="475.25" y1="317.8" x2="481.45000000000005" y2="317.8" stroke="#0b2846" stroke-width="1.1"/>
<line x1="493.95000000000005" y1="293.8" x2="493.95000000000005" y2="344.6" stroke="#3a3a3a" stroke-width="0.9"/>
<line x1="492.35" y1="293.8" x2="495.55000000000007" y2="293.8" stroke="#3a3a3a" stroke-width="0.9"/>
<line x1="492.35" y1="344.6" x2="495.55000000000007" y2="344.6" stroke="#3a3a3a" stroke-width="0.9"/>
<rect x="490.95000000000005" y="317.5" width="6.0" height="15.699999999999966" fill="#c4042c" stroke="#a80826" stroke-width="0.4"/>
<line x1="490.85" y1="326.2" x2="497.05000000000007" y2="326.2" stroke="#72101c" stroke-width="1.1"/>
<line x1="502.45000000000005" y1="288" x2="502.45000000000005" y2="343.6" stroke="#3a3a3a" stroke-width="0.9"/>
<line x1="500.85" y1="288" x2="504.05000000000007" y2="288" stroke="#3a3a3a" stroke-width="0.9"/>
<line x1="500.85" y1="343.6" x2="504.05000000000007" y2="343.6" stroke="#3a3a3a" stroke-width="0.9"/>
<rect x="499.45000000000005" y="308.59999999999997" width="6.0" height="21.200000000000024" fill="#154b84" stroke="#0e3a68" stroke-width="0.4"/>
<line x1="499.35" y1="316.5" x2="505.55000000000007" y2="316.5" stroke="#0b2846" stroke-width="1.1"/>
<circle cx="478.10" cy="280.8" r="1.2" fill="#1e1e1e"/>
</svg>
</body></html>
